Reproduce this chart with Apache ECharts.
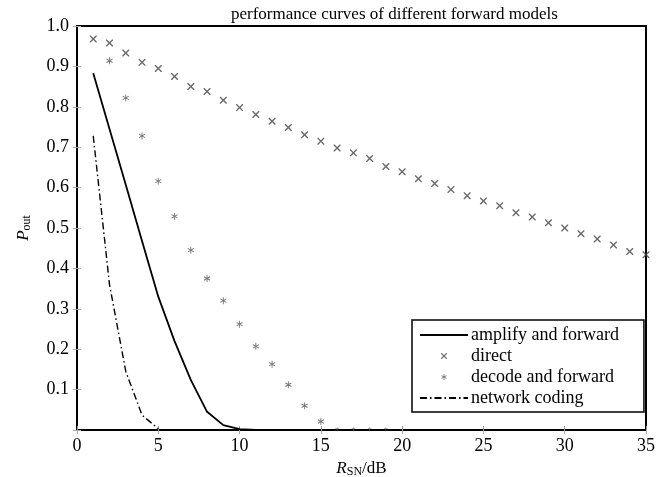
<!DOCTYPE html>
<html>
<head>
<meta charset="utf-8">
<script src="https://cdn.jsdelivr.net/npm/echarts@6/dist/echarts.min.js"></script>
<style>
  html, body { margin: 0; padding: 0; background: #fff; }
  #box { width: 670px; height: 477px; }
</style>
</head>
<body>
<div id="box"></div>
<script>
// values, x is R_SN in dB
var directX = [1, 2, 3, 4, 5, 6, 7, 8, 9, 10, 11, 12, 13, 14, 15, 16, 17, 18,
  19, 20, 21, 22, 23, 24, 25, 26, 27, 28, 29, 30, 31, 32, 33, 34, 35];
var directY = [0.968, 0.958, 0.933, 0.910, 0.895, 0.875, 0.850, 0.838, 0.816, 0.798,
  0.781, 0.764, 0.749, 0.731, 0.715, 0.698, 0.686, 0.672, 0.652, 0.639,
  0.622, 0.610, 0.595, 0.580, 0.567, 0.555, 0.538, 0.527, 0.513, 0.500,
  0.486, 0.473, 0.458, 0.442, 0.434];
var decodeX = [2, 3, 4, 5, 6, 7, 8, 9, 10, 11, 12, 13, 14, 15, 16, 17, 18, 19];
var decodeY = [0.914, 0.822, 0.728, 0.616, 0.529, 0.445, 0.375, 0.320, 0.262,
  0.207, 0.163, 0.112, 0.060, 0.021, 0.002, 0.002, 0.002, 0.002];
var amplifyX = [1, 2, 3, 4, 5, 6, 7, 8, 9, 10, 11];
var amplifyY = [0.883, 0.745, 0.607, 0.468, 0.330, 0.220, 0.124, 0.045, 0.012, 0.002, 0];
var networkX = [1, 2, 3, 4, 5];
var networkY = [0.728, 0.360, 0.145, 0.037, 0.003];

var names = ['amplify and forward', 'direct', 'decode and forward', 'network coding'];

function pairs(xs, ys) {
  return xs.map(function (x, i) { return [x, ys[i]]; });
}

var serif = '"Liberation Serif", "Times New Roman", serif';
// x shaped and asterisk shaped markers
var crossShape = 'M0,0L1.4,0L5,3.6L8.6,0L10,0L10,1.4L6.4,5L10,8.6L10,10L8.6,10L5,6.4L1.4,10L0,10L0,8.6L3.6,5L0,1.4Z';
var starShape = 'M4.35,0L5.65,0L5.65,10L4.35,10Z' +
  'M0.99,1.94L9.65,6.94L9.01,8.06L0.35,3.06Z' +
  'M0.35,6.94L9.01,1.94L9.65,3.06L0.99,8.06Z';
// empty corner points make the legend icons smaller inside their box
var pad = 'M-8,-8L-8,-8L-8,-8ZM18,18L18,18L18,18Z';
var crossPath = 'path://' + crossShape;
var starPath = 'path://' + starShape;

var chart = echarts.init(document.getElementById('box'));
var option = {
  backgroundColor: '#fff',
  animation: false,
  title: {
    text: 'performance curves of different forward models',
    left: 226,
    top: 1,
    textStyle: { fontFamily: serif, fontSize: 17, fontWeight: 'normal', color: '#000' }
  },
  grid: {
    left: 77, right: 24, top: 26, bottom: 47,
    outerBoundsMode: 'none',
    containLabel: false,
    show: true, borderColor: '#000', borderWidth: 2
  },
  legend: {
    orient: 'vertical',
    left: 412,
    top: 320,
    padding: [6, 25, 5, 7],
    itemGap: 3,
    itemWidth: 48,
    itemHeight: 15,
    borderColor: '#000',
    borderWidth: 1.5,
    backgroundColor: '#fff',
    textStyle: { fontFamily: serif, fontSize: 18, lineHeight: 18, color: '#000', padding: [0, 0, 0, -2] },
    data: [
      { name: names[0], itemStyle: { opacity: 0 } },
      { name: names[1], icon: 'path://' + crossShape + pad },
      { name: names[2], icon: 'path://' + starShape + pad },
      { name: names[3], itemStyle: { opacity: 0 } }
    ]
  },
  xAxis: [{
    type: 'value', min: 0, max: 35, interval: 5,
    name: '{i|R}{s|SN}{n|/dB}',
    nameLocation: 'middle',
    nameGap: 27,
    nameTextStyle: {
      rich: {
        i: { fontFamily: serif, fontSize: 17, fontStyle: 'italic', color: '#000' },
        s: { fontFamily: serif, fontSize: 12, color: '#000', verticalAlign: 'bottom', padding: [6, 0, 0, 0] },
        n: { fontFamily: serif, fontSize: 17, color: '#000' }
      }
    },
    axisLine: { lineStyle: { color: '#000', width: 2 } },
    axisTick: { inside: true, length: 4, lineStyle: { color: '#999' } },
    axisLabel: { margin: 7, fontFamily: serif, fontSize: 18, color: '#000' },
    splitLine: { show: false }
  }, {
    type: 'value', min: 0, max: 35, interval: 5, position: 'top',
    axisLine: { show: false },
    axisTick: { inside: true, length: 4, lineStyle: { color: '#aaa' } },
    axisLabel: { show: false },
    splitLine: { show: false }
  }],
  yAxis: [{
    type: 'value', min: 0, max: 1, interval: 0.1,
    name: '{i|P}{s|out}',
    nameLocation: 'middle',
    nameRotate: 90,
    nameGap: 44,
    nameTextStyle: {
      rich: {
        i: { fontFamily: serif, fontSize: 17, fontStyle: 'italic', color: '#000' },
        s: { fontFamily: serif, fontSize: 12, color: '#000', verticalAlign: 'bottom', padding: [6, 0, 0, 0] }
      }
    },
    axisLine: { show: true, lineStyle: { color: '#000', width: 2 } },
    axisTick: { show: true, inside: true, length: 4, lineStyle: { color: '#aaa' } },
    axisLabel: {
      margin: 8, fontFamily: serif, fontSize: 18, color: '#000',
      formatter: function (v) { return v === 0 ? '' : v.toFixed(1); }
    },
    splitLine: { show: false }
  }, {
    type: 'value', min: 0, max: 1, interval: 0.1, position: 'right',
    axisLine: { show: false },
    axisTick: { show: true, inside: true, length: 4, lineStyle: { color: '#aaa' } },
    axisLabel: { show: false },
    splitLine: { show: false }
  }],
  series: [{
    name: names[0],
    type: 'line',
    data: pairs(amplifyX, amplifyY),
    symbol: 'none',
    lineStyle: { color: '#000', width: 1.8 },
    itemStyle: { color: '#000' }
  }, {
    name: names[1],
    type: 'scatter',
    data: pairs(directX, directY),
    symbol: crossPath,
    symbolSize: 7,
    symbolKeepAspect: true,
    itemStyle: { color: '#444' }
  }, {
    name: names[2],
    type: 'scatter',
    data: pairs(decodeX, decodeY),
    symbol: starPath,
    symbolSize: function (d) { return d[1] < 0.01 ? 4 : 7; },
    symbolKeepAspect: true,
    itemStyle: { color: '#555' }
  }, {
    name: names[3],
    type: 'line',
    data: pairs(networkX, networkY),
    symbol: 'none',
    lineStyle: { color: '#000', width: 1.4, type: [7, 3, 1.5, 3] },
    itemStyle: { color: '#000' }
  }]
};
chart.setOption(option);
</script>
</body>
</html>
